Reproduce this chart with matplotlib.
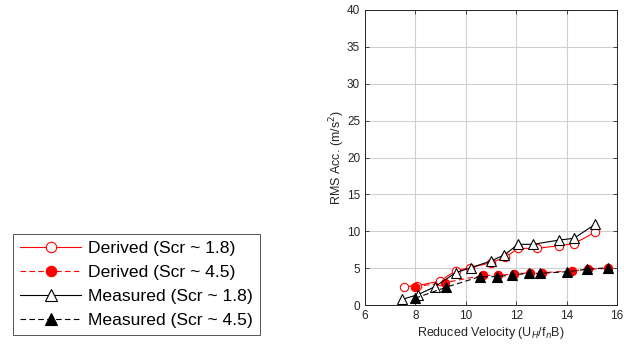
import matplotlib
matplotlib.use("Agg")
import matplotlib.pyplot as plt

plt.rcParams['font.family'] = ['Liberation Sans', 'DejaVu Sans']

# Derived (Scr ~ 1.8)
der18_x = [7.56, 8.08, 8.98, 9.6, 10.17, 11.0, 11.56, 12.08, 12.84, 13.71, 14.29, 15.13]
der18_y = [2.49, 2.62, 3.25, 4.65, 5.06, 5.74, 6.46, 7.68, 7.68, 8.05, 8.32, 9.85]
# Derived (Scr ~ 4.5)
der45_x = [7.98, 9.17, 10.67, 11.29, 11.93, 12.55, 13.01, 14.2, 14.84, 15.66]
der45_y = [2.49, 3.03, 4.02, 4.02, 4.2, 4.38, 4.38, 4.61, 4.84, 4.97]
# Measured (Scr ~ 1.8)
mea18_x = [7.48, 8.1, 8.78, 9.6, 10.2, 11.0, 11.52, 12.08, 12.67, 13.71, 14.29, 15.13]
mea18_y = [0.77, 1.4, 2.49, 4.38, 5.06, 5.97, 6.78, 8.23, 8.23, 8.81, 9.04, 10.94]
# Measured (Scr ~ 4.5)
mea45_x = [7.98, 9.21, 10.56, 11.22, 11.82, 12.51, 12.94, 14.03, 14.8, 15.66]
mea45_y = [0.9, 2.4, 3.84, 3.84, 4.07, 4.29, 4.29, 4.52, 4.84, 5.06]

labels = ['Derived (Scr ~ 1.8)', 'Derived (Scr ~ 4.5)',
          'Measured (Scr ~ 1.8)', 'Measured (Scr ~ 4.5)']
xticks = [6, 8, 10, 12, 14, 16]
yticks = [0, 5, 10, 15, 20, 25, 30, 35, 40]

fig = plt.figure(figsize=(6.24, 3.47), dpi=100)
ax = fig.add_axes([365/624, 42/347, 252/624, 295/347])

h1, = ax.plot(der18_x, der18_y, '-', color='red', lw=0.8, marker='o', ms=6,
              mfc='white', mec='red', mew=0.8, label=labels[0])
h2, = ax.plot(der45_x, der45_y, '--', color='red', lw=0.8, marker='o', ms=6,
              mfc='red', mec='red', mew=0.8, label=labels[1], dashes=(5, 3))
h3, = ax.plot(mea18_x, mea18_y, '-', color='black', lw=0.8, marker='^', ms=6.5,
              mfc='white', mec='black', mew=0.8, label=labels[2])
h4, = ax.plot(mea45_x, mea45_y, '--', color='black', lw=0.8, marker='^', ms=6.5,
              mfc='black', mec='black', mew=0.8, label=labels[3], dashes=(5, 3))

ax.set_xlim(6, 16)
ax.set_ylim(0, 40)
ax.set_xticks(xticks)
ax.set_yticks(yticks)
ax.grid(True, color='#d0d0d0', lw=0.8)
ax.set_axisbelow(True)
ax.tick_params(direction='in', top=True, right=True, length=3, width=0.6,
               labelsize=8.5, labelcolor='#262626', color='#262626')
for s in ax.spines.values():
    s.set_linewidth(0.7)
    s.set_color('#262626')
ax.set_xlabel('Reduced Velocity (U$_H$/f$_n$B)', fontsize=9, color='#262626', labelpad=2)
ax.set_ylabel('RMS Acc. (m/s$^2$)', fontsize=9, color='#262626', labelpad=0)

leg = fig.legend(handles=[h1, h2, h3, h4], labels=labels,
                 loc='upper left', bbox_to_anchor=(13/624, 1 - 234/347),
                 fontsize=12.6, frameon=True, fancybox=False,
                 edgecolor='#262626', handlelength=3.5, handletextpad=0.4,
                 borderpad=0.4, labelspacing=0.5, borderaxespad=0,
                 markerscale=1.25)
leg.get_frame().set_linewidth(0.7)

fig.savefig('out.png', dpi=100)
